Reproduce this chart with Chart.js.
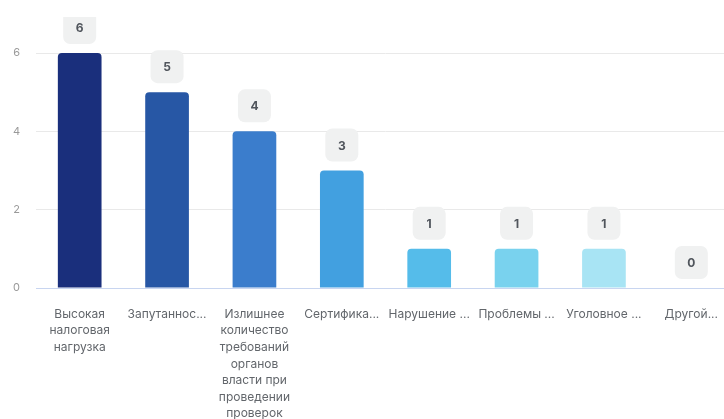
<!DOCTYPE html>
<html>
<head>
<meta charset="utf-8">
<script src="https://cdn.jsdelivr.net/npm/chart.js@4"></script>
<style>
  html, body { margin: 0; padding: 0; background: #fff; overflow: hidden; width: 724px; height: 419px; }
  #wrap { position: absolute; left: 0; top: 17px; width: 736px; height: 420px; }
</style>
</head>
<body>
<div id="wrap"><canvas id="grafico"></canvas></div>
<script>
var categorias = [
  ['Высокая', 'налоговая', 'нагрузка'],
  'Запутаннос...',
  ['Излишнее', 'количество', 'требований', 'органов', 'власти при', 'проведении', 'проверок'],
  'Сертифика...',
  'Нарушение ...',
  'Проблемы ...',
  'Уголовное ...',
  'Другой...'
];
var valores = [6, 5, 4, 3, 1, 1, 1, 0];
var cores = ['#1a2f7c', '#2757a5', '#3b7dcc', '#42a0e0', '#55bcea', '#79d2ee', '#a8e4f4', '#d2f1fa'];
var ticksY = [0, 2, 4, 6];

// caixinhas com o valor acima de cada barra
var rotulos = {
  id: 'rotulos',
  afterDatasetsDraw: function(chart) {
    var ctx = chart.ctx;
    var meta = chart.getDatasetMeta(0);
    ctx.save();
    meta.data.forEach(function(bar, i) {
      var w = 33, h = 33;
      var x = bar.x - w / 2;
      var y = bar.y - 9 - h;
      ctx.fillStyle = '#f0f1f1';
      ctx.beginPath();
      ctx.roundRect(x, y, w, h, 7);
      ctx.fill();
      ctx.fillStyle = '#50555c';
      ctx.font = 'bold 12px Inter';
      ctx.textAlign = 'center';
      ctx.textBaseline = 'middle';
      ctx.fillText(String(valores[i]), bar.x, y + h / 2 + 1);
    });
    ctx.restore();
  }
};

new Chart(document.getElementById('grafico'), {
  type: 'bar',
  data: {
    labels: categorias,
    datasets: [{
      data: valores,
      backgroundColor: cores,
      borderRadius: { topLeft: 4, topRight: 4 },
      borderSkipped: 'bottom',
      barPercentage: 0.5,
      categoryPercentage: 1
    }]
  },
  options: {
    responsive: true,
    maintainAspectRatio: false,
    animation: false,
    layout: { padding: { top: 36, right: 1, left: 0, bottom: 0 } },
    plugins: {
      legend: { display: false },
      tooltip: { enabled: false }
    },
    scales: {
      x: {
        grid: { display: false },
        border: { color: '#c8d5f0' },
        ticks: {
          autoSkip: false,
          maxRotation: 0,
          minRotation: 0,
          padding: 10,
          color: '#62666b',
          font: { family: 'Inter', size: 12, lineHeight: 1.38 }
        },
        afterFit: function(scale) { scale.height = 149; }
      },
      y: {
        min: 0,
        max: 6,
        afterBuildTicks: function(scale) {
          scale.ticks = ticksY.map(function(v) { return { value: v }; });
        },
        grid: {
          drawTicks: false,
          color: function(c) { return c.tick && c.tick.value === 0 ? '#c8d5f0' : '#e9e9e9'; }
        },
        border: { display: false },
        ticks: {
          padding: 16,
          color: '#999999',
          font: { family: 'Inter', size: 11 }
        },
        afterFit: function(scale) { scale.width = 36; }
      }
    }
  },
  plugins: [rotulos]
});
</script>
</body>
</html>
